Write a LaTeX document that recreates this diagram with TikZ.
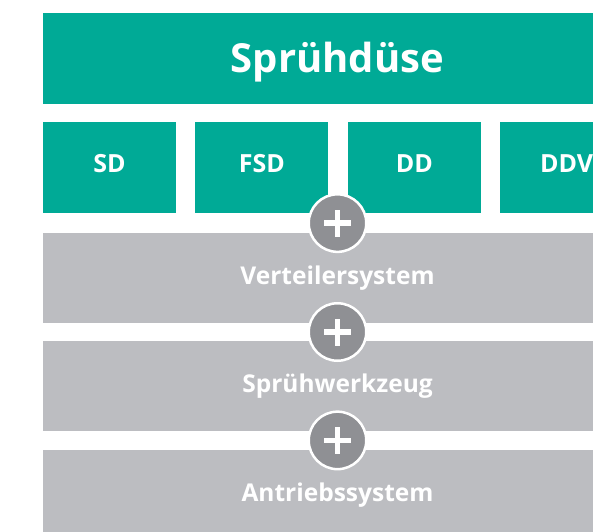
\documentclass[tikz,border=0pt]{standalone}
\usepackage{fontspec}
\setmainfont{Open Sans}
\usetikzlibrary{positioning,calc}
\definecolor{duese}{HTML}{00AA96}
\definecolor{hellgrau}{HTML}{BCBDC1}
\definecolor{plusgrau}{HTML}{8F9094}
\tikzstyle{head} = [rectangle, fill=duese, text=white, inner sep=0pt,
    minimum width=589pt, minimum height=91pt, text height=29pt, text depth=0pt,
    font=\fontsize{40}{46}\selectfont\bfseries]
\tikzstyle{typ} = [rectangle, fill=duese, text=white, inner sep=0pt,
    minimum width=133pt, minimum height=91pt, text height=17pt, text depth=7pt,
    font=\fontsize{25}{28}\selectfont\bfseries]
\tikzstyle{bar} = [rectangle, fill=hellgrau, text=white, inner sep=0pt,
    minimum width=589pt, minimum height=90pt, text height=18pt, text depth=5pt,
    font=\fontsize{24.5}{28}\selectfont\bfseries]
\tikzstyle{plus} = [circle, fill=plusgrau, draw=white, line width=2.5pt,
    minimum size=57.5pt, inner sep=0pt,
    path picture={
      \draw[white, line width=5.5pt]
        ([xshift=-13.5pt]path picture bounding box.center) -- ([xshift=13.5pt]path picture bounding box.center)
        ([yshift=-13.5pt]path picture bounding box.center) -- ([yshift=13.5pt]path picture bounding box.center);
    }]

\begin{document}
\begin{tikzpicture}[node distance=18pt]
	\useasboundingbox (0,0) rectangle (593pt,531pt);

	\node [head] (duese) at (337.5pt,472.5pt) {Sprühdüse};

	\node [typ, anchor=north west] (sd) at ([yshift=-18pt]duese.south west) {SD};
	\node [typ, right=19pt of sd] (fsd) {FSD};
	\node [typ, right=19pt of fsd] (dd) {DD};
	\node [typ, right=19pt of dd] (ddv) {DDV};

	\node [bar, below=19pt of sd.south west, anchor=north west] (verteiler) {Verteilersystem};
	\node [bar, below=of verteiler] (werkzeug) {Sprühwerkzeug};
	\node [bar, below=of werkzeug] (antrieb) {Antriebssystem};

	\node [plus] (p1) at ($(verteiler.north)!0.5!(duese.south |- sd.south)$) {};
	\node [plus] (p2) at ($(verteiler.south)!0.5!(werkzeug.north)$) {};
	\node [plus] (p3) at ($(werkzeug.south)!0.5!(antrieb.north)$) {};
\end{tikzpicture}
\end{document}
